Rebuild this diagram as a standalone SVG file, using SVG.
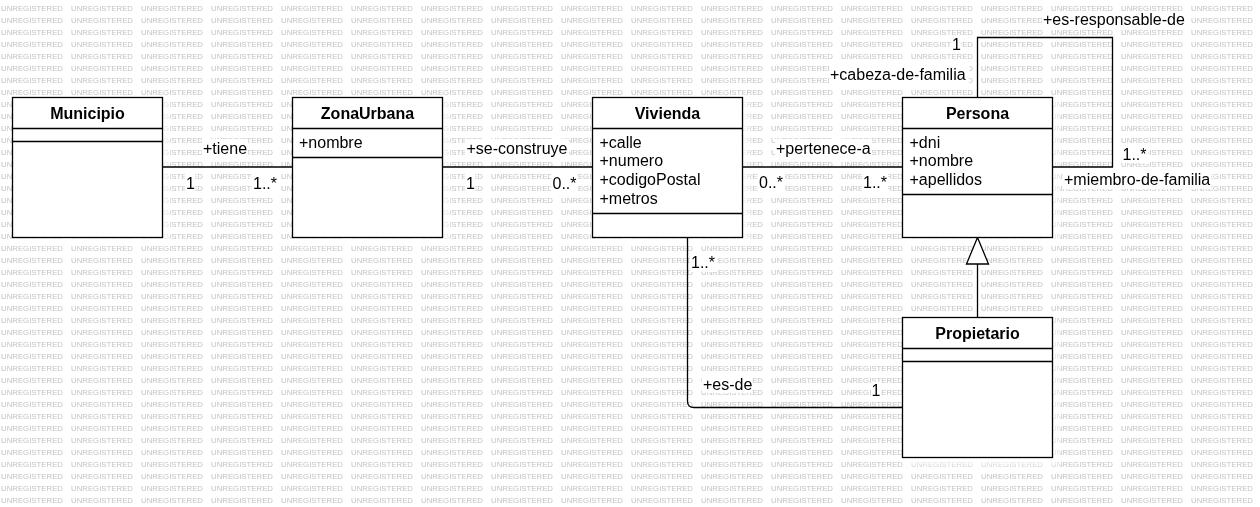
<svg xmlns="http://www.w3.org/2000/svg" width="1260" height="507" viewBox="0 0 1260 507">
<style>
.wm{font-family:"Liberation Sans",Arial,sans-serif;font-size:7.8px;fill:#c2c2c2}
.box{fill:#fff;stroke:#000;stroke-width:1.3}
.sep{stroke:#000;stroke-width:1.3;fill:none}
.sh{fill:#fff;opacity:0.6}
.title{font-family:"Liberation Sans",Arial,sans-serif;font-size:16px;font-weight:bold;fill:#000;text-anchor:middle}
.attr{font-family:"Liberation Sans",Arial,sans-serif;font-size:16px;fill:#000}
.lbl{font-family:"Liberation Sans",Arial,sans-serif;font-size:16px;fill:#000}
.lbg{fill:#fff}
.line{fill:none;stroke:#000;stroke-width:1.3}
</style>
<defs>
<pattern id="wmp" x="0" y="0" width="70" height="12" patternUnits="userSpaceOnUse">
<text class="wm" x="1" y="11" textLength="62" lengthAdjust="spacingAndGlyphs">UNREGISTERED</text>
</pattern>
<filter id="blur" x="-10%" y="-10%" width="120%" height="120%"><feGaussianBlur stdDeviation="2"/></filter>
</defs>
<rect x="0" y="0" width="1260" height="507" fill="#fff"/>
<rect x="0" y="0" width="1260" height="507" fill="url(#wmp)"/>

<g id="shadows" filter="url(#blur)">
<rect class="sh" x="14" y="99" width="156" height="146"/>
<rect class="sh" x="294" y="99" width="156" height="146"/>
<rect class="sh" x="594" y="99" width="156" height="146"/>
<rect class="sh" x="904" y="99" width="156" height="146"/>
<rect class="sh" x="904" y="320" width="156" height="146"/>
</g>

<g id="connectors">
<path class="line" d="M162,167 H292"/>
<path class="line" d="M442,167 H592"/>
<path class="line" d="M742,167 H902"/>
<path class="line" d="M977.5,97 V37.5 H1112.5 V167 H1052"/>
<path class="line" d="M687.5,237 V401 Q687.5,407.5 694,407.5 H902"/>
<path class="line" d="M977.5,317.5 V264"/>
<path d="M977.5,237.5 L988.5,264 L966.5,264 Z" fill="#fff" stroke="#000" stroke-width="1.3"/>
<g id="labels">
<rect class="lbg" x="202" y="139" width="46" height="18"/>
<text class="lbl" x="203" y="153.5">+tiene</text>
<rect class="lbg" x="185" y="174" width="10" height="18"/>
<text class="lbl" x="186" y="188.5">1</text>
<rect class="lbg" x="252" y="174" width="26" height="18"/>
<text class="lbl" x="253" y="188.5">1..*</text>
<rect class="lbg" x="465" y="139" width="104" height="18"/>
<text class="lbl" x="466.5" y="153.5">+se-construye</text>
<rect class="lbg" x="465" y="174" width="10" height="18"/>
<text class="lbl" x="466" y="188.5">1</text>
<rect class="lbg" x="551" y="174" width="26" height="18"/>
<text class="lbl" x="552.5" y="188.5">0..*</text>
<rect class="lbg" x="775" y="139" width="97" height="18"/>
<text class="lbl" x="776" y="154">+pertenece-a</text>
<rect class="lbg" x="758" y="174" width="27" height="18"/>
<text class="lbl" x="759" y="188">0..*</text>
<rect class="lbg" x="862" y="174" width="26" height="18"/>
<text class="lbl" x="863" y="188">1..*</text>
<rect class="lbg" x="829" y="65" width="140" height="18"/>
<text class="lbl" x="830" y="79.5">+cabeza-de-familia</text>
<rect class="lbg" x="951" y="36" width="10" height="18"/>
<text class="lbl" x="952" y="50">1</text>
<rect class="lbg" x="1042" y="11" width="144" height="18"/>
<text class="lbl" x="1043" y="25">+es-responsable-de</text>
<rect class="lbg" x="1121" y="145" width="27" height="18"/>
<text class="lbl" x="1122.5" y="159.5">1..*</text>
<rect class="lbg" x="1063" y="171" width="148" height="18"/>
<text class="lbl" x="1064" y="185">+miembro-de-familia</text>
<rect class="lbg" x="690" y="254" width="27" height="18"/>
<text class="lbl" x="691" y="268">1..*</text>
<rect class="lbg" x="702" y="375" width="50" height="18"/>
<text class="lbl" x="703" y="389.5">+es-de</text>
<rect class="lbg" x="871" y="382" width="10" height="18"/>
<text class="lbl" x="871.5" y="396">1</text>
</g>
</g>

<g id="Municipio">
<rect class="box" x="12.5" y="97.5" width="150" height="140"/>
<path class="sep" d="M12.5,128.5 H162.5 M12.5,141.5 H162.5"/>
<text class="title" x="87.5" y="119">Municipio</text>
</g>

<g id="ZonaUrbana">
<rect class="box" x="292.5" y="97.5" width="150" height="140"/>
<path class="sep" d="M292.5,128.5 H442.5 M292.5,157.5 H442.5"/>
<text class="title" x="367.5" y="119">ZonaUrbana</text>
<text class="attr" x="299" y="147.5">+nombre</text>
</g>

<g id="Vivienda">
<rect class="box" x="592.5" y="97.5" width="150" height="140"/>
<path class="sep" d="M592.5,128.5 H742.5 M592.5,213.5 H742.5"/>
<text class="title" x="667.5" y="119">Vivienda</text>
<text class="attr" x="599.5" y="147.5">+calle</text>
<text class="attr" x="599.5" y="166.2">+numero</text>
<text class="attr" x="599.5" y="185">+codigoPostal</text>
<text class="attr" x="599.5" y="203.7">+metros</text>
</g>

<g id="Persona">
<rect class="box" x="902.5" y="97.5" width="150" height="140"/>
<path class="sep" d="M902.5,128.5 H1052.5 M902.5,194.5 H1052.5"/>
<text class="title" x="977.5" y="119">Persona</text>
<text class="attr" x="909.5" y="147.5">+dni</text>
<text class="attr" x="909.5" y="166.2">+nombre</text>
<text class="attr" x="909.5" y="185">+apellidos</text>
</g>

<g id="Propietario">
<rect class="box" x="902.5" y="317.5" width="150" height="140"/>
<path class="sep" d="M902.5,348.5 H1052.5 M902.5,361.5 H1052.5"/>
<text class="title" x="977.5" y="339">Propietario</text>
</g>
</svg>
